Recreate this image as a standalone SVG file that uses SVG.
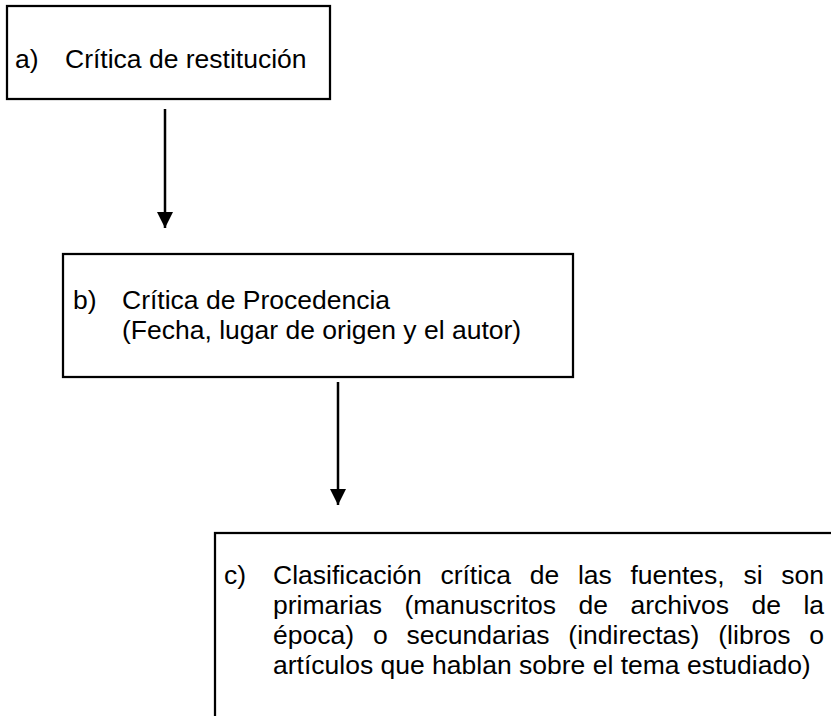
<svg xmlns="http://www.w3.org/2000/svg" width="831" height="716" viewBox="0 0 831 716">
<style>
.box{fill:#fff;stroke:#000;stroke-width:2.25}
.t{font-family:"Liberation Sans",Arial,sans-serif;font-size:26.5px;fill:#000}
.conn{stroke:#000;stroke-width:2.5;fill:none}
</style>
<defs>
<marker id="ah" markerUnits="userSpaceOnUse" markerWidth="16" markerHeight="17" refX="16" refY="8" orient="auto">
<path d="M0,0 L16,8 L0,16 Z" fill="#000"/>
</marker>
</defs>
<rect width="831" height="716" fill="#fff"/>
<g id="connectors">
<line class="conn" x1="165" y1="109" x2="165" y2="228" marker-end="url(#ah)"/>
<line class="conn" x1="338" y1="382" x2="338" y2="505" marker-end="url(#ah)"/>
</g>
<g id="node-a">
<rect class="box" x="7" y="6" width="323" height="93"/>
<text class="t" x="15" y="68">a)</text>
<text class="t" x="65" y="68">Crítica de restitución</text>
</g>
<g id="node-b">
<rect class="box" x="63" y="254" width="510" height="123"/>
<text class="t" x="73" y="309">b)</text>
<text class="t" x="122" y="309">Crítica de Procedencia</text>
<text class="t" x="122" y="339">(Fecha, lugar de origen y el autor)</text>
</g>
<g id="node-c">
<rect class="box" x="215" y="533" width="640" height="200"/>
<text class="t" x="224" y="584">c)</text>
<text class="t" x="273" y="584" word-spacing="11.3">Clasificación crítica de las fuentes, si son</text>
<text class="t" x="273" y="614" word-spacing="15.07">primarias (manuscritos de archivos de la</text>
<text class="t" x="273" y="644" word-spacing="11.53">época) o secundarias (indirectas) (libros o</text>
<text class="t" x="273" y="674">artículos que hablan sobre el tema estudiado)</text>
</g>
</svg>
